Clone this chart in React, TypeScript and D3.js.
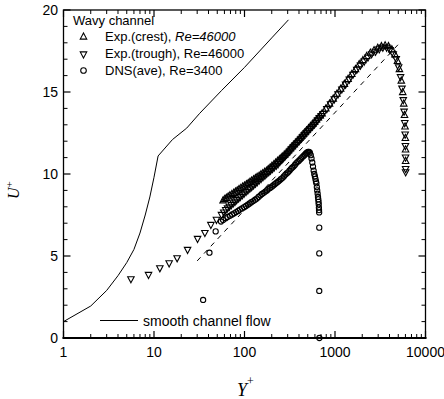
import React from "react";
import * as d3 from "d3";

// ---------- data ----------
const smoothX = [1, 2, 3, 4, 5, 6, 7, 8, 9, 10, 11.1, 16, 23, 32, 56, 100, 200, 306];
const smoothU = [1.0, 1.95, 2.9, 3.8, 4.6, 5.4, 6.4, 7.5, 8.6, 9.8, 11.1, 12.1, 12.8, 13.7, 15.1, 16.5, 18.3, 19.4];

const dashX = [30, 5000];
const dashU = [4.7, 17.9];

const crestX = [58, 60.5, 63, 66, 69, 72.5, 76, 79.5, 83, 87, 91, 95.5, 100, 105, 110, 115, 120, 126, 132, 138, 145, 152, 159, 167, 175, 183, 192, 201, 211, 221, 232, 243, 255, 267, 280, 294, 308, 323, 338, 355, 372, 390, 409, 429, 449, 471, 494, 518, 543, 569, 596, 625, 655, 687, 720, 792, 870, 956, 1050, 1155, 1270, 1395, 1533, 1685, 1852, 2035, 2237, 2458, 2700, 2970, 3260, 3580, 3900, 4250, 4600, 4900, 5150, 5400, 5600, 5750, 5860, 5940, 5990, 6020, 6030];
const crestU = [8.4, 8.48, 8.55, 8.63, 8.7, 8.78, 8.85, 8.93, 9.0, 9.08, 9.15, 9.23, 9.3, 9.38, 9.45, 9.53, 9.6, 9.68, 9.75, 9.83, 9.9, 9.98, 10.05, 10.13, 10.2, 10.3, 10.4, 10.5, 10.6, 10.7, 10.8, 10.9, 11.0, 11.1, 11.2, 11.33, 11.45, 11.58, 11.7, 11.83, 11.95, 12.08, 12.2, 12.33, 12.45, 12.58, 12.7, 12.83, 12.95, 13.08, 13.2, 13.33, 13.45, 13.58, 13.7, 14.0, 14.3, 14.6, 14.9, 15.2, 15.5, 15.8, 16.1, 16.4, 16.7, 16.95, 17.2, 17.4, 17.55, 17.7, 17.8, 17.85, 17.8, 17.6, 17.3, 16.9, 16.4, 15.7, 15.0, 14.3, 13.6, 12.9, 12.2, 11.5, 10.8];

const troughX = [5.56, 8.7, 11.6, 14.7, 18, 23.5, 30.3, 36.5, 42.5, 49, 55.7, 59, 62, 65, 68, 71.5, 75, 78.5, 82, 86, 90, 94.5, 99, 104, 109, 114.5, 120, 126, 132, 138.5, 145, 152.5, 160, 168, 176, 185, 194, 203.5, 213, 224, 235, 246, 258, 271, 284, 298, 313, 328, 344, 361, 379, 398, 417, 437, 458, 481, 504, 529, 555, 582, 610, 640, 671, 704, 738, 812, 893, 982, 1080, 1190, 1310, 1440, 1580, 1740, 1910, 2100, 2310, 2540, 2800, 3080, 3380, 3720, 4050, 4400, 4750, 5050, 5300, 5500, 5680, 5800, 5900, 5960, 6000, 6020, 6030, 6030];
const troughU = [3.58, 3.84, 4.25, 4.55, 4.86, 5.37, 6.04, 6.4, 6.89, 7.2, 7.5, 7.65, 7.8, 7.9, 8.0, 8.1, 8.2, 8.3, 8.4, 8.5, 8.6, 8.7, 8.8, 8.9, 9.0, 9.1, 9.2, 9.3, 9.4, 9.5, 9.6, 9.7, 9.8, 9.9, 10.0, 10.1, 10.2, 10.3, 10.4, 10.5, 10.6, 10.73, 10.85, 10.98, 11.1, 11.23, 11.35, 11.48, 11.6, 11.73, 11.85, 11.98, 12.1, 12.23, 12.35, 12.48, 12.6, 12.73, 12.85, 12.98, 13.1, 13.25, 13.4, 13.53, 13.65, 13.95, 14.25, 14.55, 14.85, 15.15, 15.45, 15.75, 16.05, 16.35, 16.6, 16.85, 17.1, 17.3, 17.45, 17.6, 17.7, 17.7, 17.55, 17.3, 17.0, 16.5, 15.9, 15.2, 14.5, 13.8, 13.1, 12.4, 11.7, 11.0, 10.3, 10.1];

const dnsX = [34.9, 41, 48, 55, 58, 62, 65, 69, 73, 77, 81, 85, 89, 94, 99, 104, 109, 114, 119, 125, 131, 137, 143, 150, 156, 163, 170, 177, 184, 192, 200, 208, 216, 225, 234, 243, 252, 262, 272, 282, 292, 303, 314, 325, 336, 348, 360, 372, 384, 397, 410, 423, 436, 450, 464, 478, 490, 503, 516, 528, 540, 550, 561, 571, 581, 590, 600, 608, 616, 623, 630, 636, 643, 649, 654, 658, 661, 664, 666, 668, 670, 670, 670, 672];
const dnsU = [2.32, 5.2, 6.5, 7.1, 7.2, 7.3, 7.38, 7.45, 7.53, 7.6, 7.68, 7.75, 7.83, 7.9, 7.98, 8.05, 8.13, 8.2, 8.28, 8.35, 8.43, 8.5, 8.6, 8.7, 8.78, 8.85, 8.93, 9.0, 9.08, 9.15, 9.23, 9.3, 9.38, 9.45, 9.53, 9.6, 9.68, 9.75, 9.85, 9.95, 10.03, 10.1, 10.2, 10.3, 10.38, 10.45, 10.55, 10.65, 10.73, 10.8, 10.88, 10.95, 11.03, 11.1, 11.18, 11.25, 11.3, 11.35, 11.35, 11.3, 11.15, 10.95, 10.7, 10.45, 10.2, 10.0, 9.85, 9.7, 9.55, 9.43, 9.2, 9.0, 8.8, 8.6, 8.45, 8.3, 8.15, 7.95, 7.8, 7.66, 6.73, 5.16, 2.87, 0];

const xTicks = [1, 10, 100, 1000, 10000];
const xTickLabels = ["1", "10", "100", "1000", "10000"];
const yTicks = [0, 5, 10, 15, 20];
const yTickLabels = ["0", "5", "10", "15", "20"];

const legendLabels = ["Exp.(crest), ", "Exp.(trough), Re=46000", "DNS(ave), Re=3400"];

// ---------- layout ----------
const W = 444;
const H = 399;
const L = 63.5;
const R = 425.5;
const T = 10;
const B = 338;

const SANS = "'Liberation Sans', Arial, Helvetica, sans-serif";
const SERIF = "'Liberation Serif', 'Times New Roman', serif";

function triUp(cx: number, cy: number, s: number) {
  return `M${cx},${cy - s * 0.55}L${cx + s / 2},${cy + s * 0.4}L${cx - s / 2},${cy + s * 0.4}Z`;
}
function triDown(cx: number, cy: number, s: number) {
  return `M${cx},${cy + s * 0.55}L${cx + s / 2},${cy - s * 0.4}L${cx - s / 2},${cy - s * 0.4}Z`;
}

export default function App() {
  const x = d3.scaleLog().domain([1, 10000]).range([L, R]);
  const y = d3.scaleLinear().domain([0, 20]).range([B, T]);

  const line = d3
    .line<[number, number]>()
    .x((d) => x(d[0]))
    .y((d) => y(d[1]));

  const smooth = smoothX.map((v, i) => [v, smoothU[i]] as [number, number]);
  const dash = dashX.map((v, i) => [v, dashU[i]] as [number, number]);

  const minorX: number[] = [];
  for (let d = 1; d < 10000; d *= 10) for (let k = 2; k <= 9; k++) minorX.push(d * k);
  const minorY: number[] = d3.range(0, 21).filter((v) => v % 5 !== 0);

  const ts = 6.5;

  return (
    <svg
      width={W}
      height={H}
      viewBox={`0 0 ${W} ${H}`}
      style={{ position: "absolute", left: 0, top: 0, background: "#fff" }}
    >
      <rect x={0} y={0} width={W} height={H} fill="#fff" />

      {/* frame */}
      <rect x={L} y={T} width={R - L} height={B - T} fill="none" stroke="#000" strokeWidth={1.3} />
      <line x1={L - 1} x2={R + 1} y1={B} y2={B} stroke="#000" strokeWidth={2.2} />

      {/* x ticks */}
      {xTicks.map((t) => (
        <g key={"xt" + t}>
          <line x1={x(t)} x2={x(t)} y1={B} y2={B - 7} stroke="#000" strokeWidth={1.2} />
          <line x1={x(t)} x2={x(t)} y1={T} y2={T + 7} stroke="#000" strokeWidth={1.2} />
        </g>
      ))}
      {minorX.map((t) => (
        <g key={"xm" + t}>
          <line x1={x(t)} x2={x(t)} y1={B} y2={B - 4} stroke="#000" strokeWidth={1} />
          <line x1={x(t)} x2={x(t)} y1={T} y2={T + 4} stroke="#000" strokeWidth={1} />
        </g>
      ))}
      {/* y ticks */}
      {yTicks.map((t) => (
        <g key={"yt" + t}>
          <line x1={L} x2={L + 7} y1={y(t)} y2={y(t)} stroke="#000" strokeWidth={1.2} />
          <line x1={R} x2={R - 7} y1={y(t)} y2={y(t)} stroke="#000" strokeWidth={1.2} />
        </g>
      ))}
      {minorY.map((t) => (
        <g key={"ym" + t}>
          <line x1={L} x2={L + 4} y1={y(t)} y2={y(t)} stroke="#000" strokeWidth={1} />
          <line x1={R} x2={R - 4} y1={y(t)} y2={y(t)} stroke="#000" strokeWidth={1} />
        </g>
      ))}

      {/* tick labels */}
      {xTicks.map((t, i) => (
        <text key={"xl" + t} x={x(t)} y={357} textAnchor="middle" fontFamily={SANS} fontSize={14} fill="#000">
          {xTickLabels[i]}
        </text>
      ))}
      {yTicks.map((t, i) => (
        <text key={"yl" + t} x={58} y={y(t) + 5} textAnchor="end" fontFamily={SANS} fontSize={14} fill="#000">
          {yTickLabels[i]}
        </text>
      ))}

      {/* axis titles */}
      <text x={237} y={396} fontFamily={SERIF} fontStyle="italic" fontSize={18} fill="#000">
        Y
        <tspan dy={-11} fontSize={12} fontStyle="normal">+</tspan>
      </text>
      <text transform="translate(19,199) rotate(-90)" fontFamily={SERIF} fontStyle="italic" fontSize={16} fill="#000">
        U
        <tspan dy={-6} fontSize={11} fontStyle="normal">+</tspan>
      </text>

      {/* smooth channel line and log-law dashed */}
      <path d={line(smooth) ?? ""} fill="none" stroke="#000" strokeWidth={1} />
      <path d={line(dash) ?? ""} fill="none" stroke="#000" strokeWidth={1} strokeDasharray="5,5" />

      {/* data markers */}
      {dnsX.map((v, i) => (
        <circle key={"c" + i} cx={x(v)} cy={y(dnsU[i])} r={2.6} fill="none" stroke="#000" strokeWidth={1.1} />
      ))}
      {troughX.map((v, i) => (
        <path key={"d" + i} d={triDown(x(v), y(troughU[i]), 6.5)} fill="none" stroke="#000" strokeWidth={1.1} />
      ))}
      {crestX.map((v, i) => (
        <path key={"u" + i} d={triUp(x(v), y(crestU[i]), 6.5)} fill="none" stroke="#000" strokeWidth={1.1} />
      ))}

      {/* legend */}
      <text x={73} y={25} fontFamily={SANS} fontSize={13} fill="#000">Wavy channel</text>
      <path d={triUp(83.5, 36.5, ts)} fill="none" stroke="#000" strokeWidth={1.1} />
      <text x={105} y={41} fontFamily={SANS} fontSize={13} fill="#000">
        {legendLabels[0]}
        <tspan fontStyle="italic">Re=46000</tspan>
      </text>
      <path d={triDown(83.5, 54.5, ts)} fill="none" stroke="#000" strokeWidth={1.1} />
      <text x={105} y={58} fontFamily={SANS} fontSize={13} fill="#000">{legendLabels[1]}</text>
      <circle cx={83.5} cy={70.5} r={2.8} fill="none" stroke="#000" strokeWidth={1.1} />
      <text x={105} y={75} fontFamily={SANS} fontSize={13} fill="#000">{legendLabels[2]}</text>

      <line x1={100} x2={138} y1={320.5} y2={320.5} stroke="#000" strokeWidth={1} />
      <text x={143} y={326} fontFamily={SANS} fontSize={14} fill="#000">smooth channel flow</text>
    </svg>
  );
}
